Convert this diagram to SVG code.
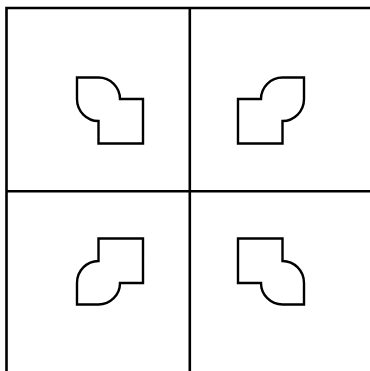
<svg xmlns="http://www.w3.org/2000/svg" width="370" height="371" viewBox="0 0 370 371">
<defs>
<style>
.grid{stroke:#000;stroke-width:2.6;fill:none}
.shape{stroke:#000;stroke-width:2.4;fill:none;stroke-linejoin:miter}
</style>
<path id="piece" class="shape" d="M77,77.5 H98.5 A21.5,21.5 0 0 1 120,99 H143 V143.5 H98.5 V121 A21.5,22 0 0 1 77,99 Z"/>
</defs>
<rect width="370" height="371" fill="#fff"/>
<g id="connectors">
<path class="grid" d="M6.5,371 V8 H370"/>
<line class="grid" x1="189.8" y1="8" x2="189.8" y2="371"/>
<line class="grid" x1="6.5" y1="191.2" x2="370" y2="191.2"/>
</g>
<g id="tl"><use href="#piece"/></g>
<g id="tr"><use href="#piece" transform="translate(381,0) scale(-1,1)"/></g>
<g id="bl"><use href="#piece" transform="translate(0,382) scale(1,-1)"/></g>
<g id="br"><use href="#piece" transform="translate(381,382) scale(-1,-1)"/></g>
</svg>
